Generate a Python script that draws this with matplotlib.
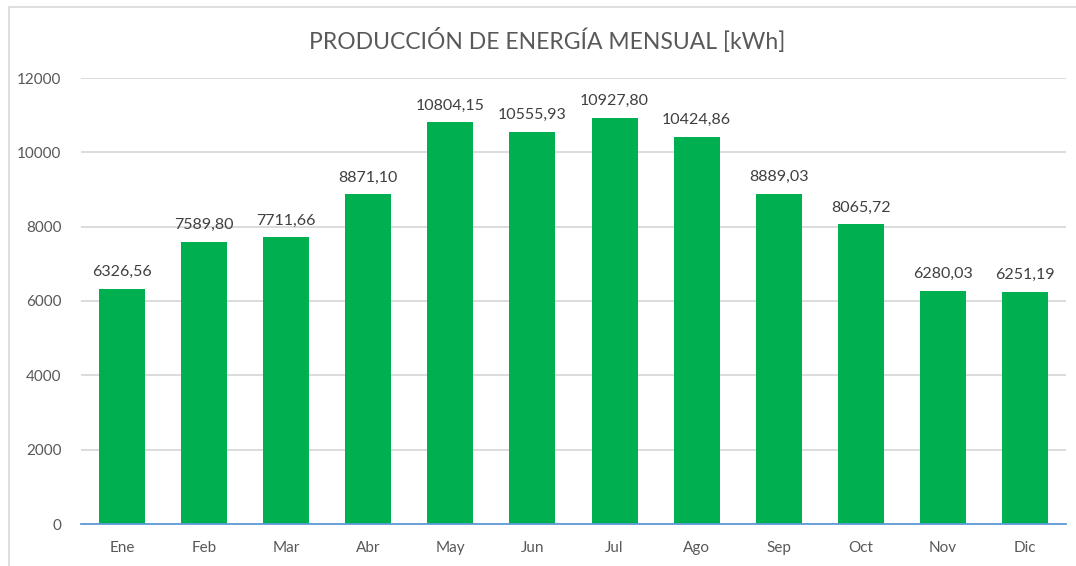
import matplotlib.pyplot as plt
from matplotlib.patches import Rectangle

meses = ['Ene', 'Feb', 'Mar', 'Abr', 'May', 'Jun', 'Jul', 'Ago', 'Sep', 'Oct', 'Nov', 'Dic']
energia = [6326.56, 7589.80, 7711.66, 8871.10, 10804.15, 10555.93,
           10927.80, 10424.86, 8889.03, 8065.72, 6280.03, 6251.19]
y_ticks = [0, 2000, 4000, 6000, 8000, 10000, 12000]

gris = '#595959'
plt.rcParams['font.family'] = ['Lato', 'DejaVu Sans']

fig = plt.figure(figsize=(10.76, 5.66), dpi=100)
ax = fig.add_axes([81 / 1076, 42 / 566, 985 / 1076, 446 / 566])

x = list(range(len(meses)))
ax.bar(x, energia, width=0.56, color='#00B050', zorder=3)

for xi, v in zip(x, energia):
    etiqueta = f'{v:.2f}'.replace('.', ',')
    ax.annotate(etiqueta, (xi, v), xytext=(0, 7), textcoords='offset points',
                ha='center', va='bottom', fontsize=11.5, color='#404040')

ax.set_xlim(-0.5, len(meses) - 0.5)
ax.set_ylim(0, 12000)
ax.set_xticks(x)
ax.set_xticklabels(meses)
ax.set_yticks(y_ticks)
ax.tick_params(axis='both', length=0, labelsize=11, colors=gris)
ax.tick_params(axis='x', pad=12)
ax.tick_params(axis='y', pad=14)
ax.grid(axis='y', color='#D9D9D9', linewidth=1.3, zorder=0)

for lado in ['top', 'right', 'left']:
    ax.spines[lado].set_visible(False)
ax.spines['bottom'].set_color('#5B9BD5')
ax.spines['bottom'].set_linewidth(1.3)
ax.spines['bottom'].set_zorder(4)

fig.text(547 / 1076, 1 - 40 / 566, 'PRODUCCIÓN DE ENERGÍA MENSUAL [kWh]',
         ha='center', va='center', fontsize=16.5, color=gris)

# marco del gráfico
fig.patches.append(Rectangle((9 / 1076, -0.05), 1.2, 1 - 7 / 566 + 0.05,
                             transform=fig.transFigure, fill=False,
                             edgecolor='#D9D9D9', linewidth=1.2))

fig.savefig('out.png', dpi=100)
